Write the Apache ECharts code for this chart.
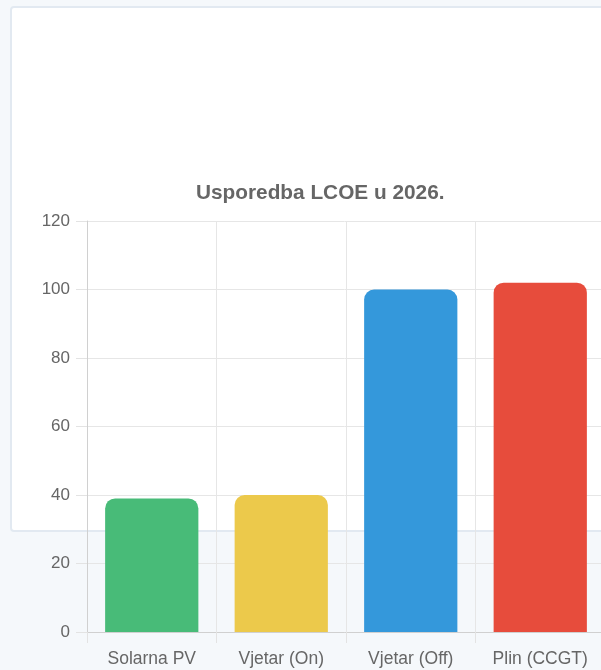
<!DOCTYPE html>
<html>
<head>
<meta charset="utf-8">
<script src="https://cdn.jsdelivr.net/npm/echarts@6/dist/echarts.min.js"></script>
<style>
  html, body { margin: 0; padding: 0; background: #f5f8fb; overflow: hidden; }
  #card {
    position: absolute; left: 10px; top: 6px; width: 640px; height: 522px;
    background: #fff; border: 2px solid #e2e9f1; border-radius: 4px;
  }
  #lcoe { position: absolute; left: 0; top: 0; width: 601px; height: 670px; }
</style>
</head>
<body>
<div id="card"></div>
<div id="lcoe"></div>
<script>
// podaci
var tehnologije = ['Solarna PV', 'Vjetar (On)', 'Vjetar (Off)', 'Plin (CCGT)'];
var lcoe = [39, 40, 100, 102];
var boje = ['#48bb78', '#ecc94b', '#3498db', '#e74c3c'];
var yTicks = [0, 20, 40, 60, 80, 100, 120];

var myChart = echarts.init(document.getElementById('lcoe'));

var option = {
    backgroundColor: 'transparent',
    animation: false,
    title: {
        text: 'Usporedba LCOE u 2026.',
        left: 196,
        top: 183,
        padding: 0,
        textStyle: {
            color: '#666',
            fontSize: 20.8,
            fontWeight: 'bold',
            fontFamily: 'Liberation Sans'
        }
    },
    grid: {
        left: 87,
        top: 221,
        width: 518,
        height: 411,
        outerBoundsMode: 'none',
        containLabel: false
    },
    xAxis: {
        type: 'category',
        data: tehnologije,
        axisLine: { show: true, lineStyle: { color: '#d0d0d0' } },
        axisTick: { show: true, length: 11, lineStyle: { color: '#e3e3e3' } },
        splitLine: { show: true, lineStyle: { color: '#e6e6e6' } },
        axisLabel: {
            color: '#666',
            fontSize: 17.5,
            fontFamily: 'Liberation Sans',
            margin: 18
        }
    },
    yAxis: {
        type: 'value',
        min: yTicks[0],
        max: yTicks[yTicks.length - 1],
        interval: 20,
        axisLine: { show: true, lineStyle: { color: '#d0d0d0' } },
        axisTick: { show: true, length: 11, lineStyle: { color: '#e3e3e3' } },
        splitLine: { show: true, lineStyle: { color: '#e6e6e6' } },
        axisLabel: {
            color: '#666',
            fontSize: 17,
            fontFamily: 'Liberation Sans',
            margin: 17
        }
    },
    series: [{
        name: 'LCOE',
        type: 'bar',
        barWidth: '72%',
        data: lcoe.map(function (v, i) {
            return { value: v, itemStyle: { color: boje[i] } };
        }),
        itemStyle: { borderRadius: [10, 10, 0, 0] }
    }]
};
myChart.setOption(option);
window.onresize = function () {
    myChart.resize();
};
</script>
</body>
</html>
